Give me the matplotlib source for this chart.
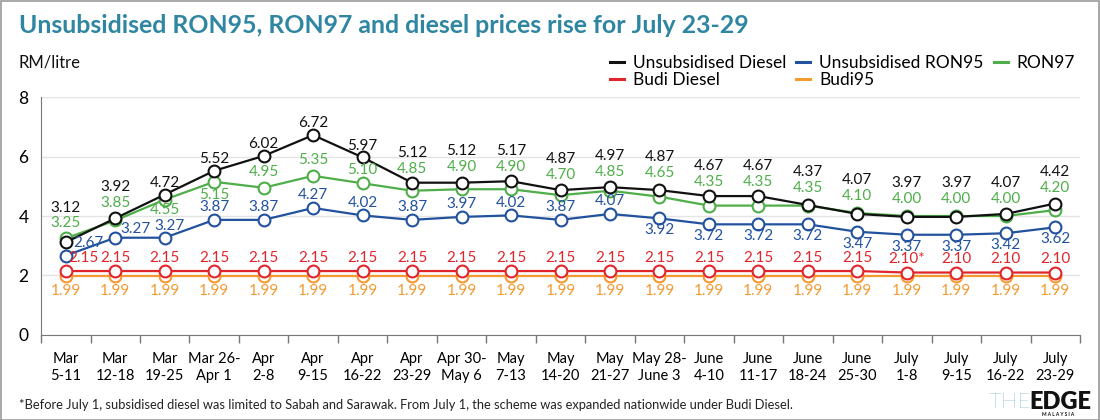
import numpy as np
import matplotlib
matplotlib.use("Agg")
import matplotlib.pyplot as plt
from matplotlib.patches import Rectangle
from matplotlib.lines import Line2D

plt.rcParams['font.family'] = ['Lato', 'DejaVu Sans']

# ---- data ----
weeks = ["Mar\n5-11", "Mar\n12-18", "Mar\n19-25", "Mar 26-\nApr 1", "Apr\n2-8",
         "Apr\n9-15", "Apr\n16-22", "Apr\n23-29", "Apr 30-\nMay 6", "May\n7-13",
         "May\n14-20", "May\n21-27", "May 28-\nJune 3", "June\n4-10", "June\n11-17",
         "June\n18-24", "June\n25-30", "July\n1-8", "July\n9-15", "July\n16-22",
         "July\n23-29"]
diesel = [3.12, 3.92, 4.72, 5.52, 6.02, 6.72, 5.97, 5.12, 5.12, 5.17, 4.87,
          4.97, 4.87, 4.67, 4.67, 4.37, 4.07, 3.97, 3.97, 4.07, 4.42]
ron95 = [2.67, 3.27, 3.27, 3.87, 3.87, 4.27, 4.02, 3.87, 3.97, 4.02, 3.87,
         4.07, 3.92, 3.72, 3.72, 3.72, 3.47, 3.37, 3.37, 3.42, 3.62]
ron97 = [3.25, 3.85, 4.55, 5.15, 4.95, 5.35, 5.10, 4.85, 4.90, 4.90, 4.70,
         4.85, 4.65, 4.35, 4.35, 4.35, 4.10, 4.00, 4.00, 4.00, 4.20]
budi_diesel = [2.15] * 17 + [2.10] * 4
budi95 = [1.99] * 21
budi_diesel_labels = ["2.15"] * 17 + ["2.10*", "2.10", "2.10", "2.10"]

# label nudges (data units) for the RON97 values, as laid out in the original
green_offsets = [0.5, 0.59, -0.35, -0.45, 0.53, 0.53, 0.45, 0.73, 0.75, 0.75, 0.68,
                 0.63, 0.79, 0.79, 0.79, 0.59, 0.57, 0.57, 0.57, 0.57, 0.74]

C_BLACK = "#111111"
C_BLUE = "#22529e"
C_GREEN = "#4fae4a"
C_RED = "#e0262b"
C_ORANGE = "#f39a31"
C_TITLE = "#2f86a2"

fig = plt.figure(figsize=(11, 4.2), dpi=100)
ax = fig.add_axes([0.0373, 0.2024, 0.9445, 0.5666])

x = np.arange(len(weeks))


def draw(vals, color, label, z):
    ax.plot(x, vals, color=color, lw=1.6, marker='o', ms=8.5, mfc='white',
            mec=color, mew=1.5, label=label, zorder=z)


draw(budi95, C_ORANGE, "Budi95", 3)
draw(budi_diesel, C_RED, "Budi Diesel", 4)
draw(ron95, C_BLUE, "Unsubsidised RON95", 5)
draw(ron97, C_GREEN, "RON97", 6)
draw(diesel, C_BLACK, "Unsubsidised Diesel", 7)

# ---- value labels ----
fs = 11
green_y = []
for i, v in enumerate(ron97):
    gy = v + green_offsets[i]
    green_y.append(gy)
    ax.text(i, gy, f"{v:.2f}", color=C_GREEN, fontsize=fs, ha='center',
            va='center', zorder=10)

for i, v in enumerate(diesel):
    if i in (2, 3):
        dy = v + 0.4
    else:
        dy = max(v + 0.4, green_y[i] + 0.53)
    ax.text(i, dy, f"{v:.2f}", color=C_BLACK, fontsize=fs, ha='center',
            va='center', zorder=10)

for i, v in enumerate(ron95):
    dx = 0
    if i == 0:
        dx, dy = 0.45, v + 0.42
    elif i == 1:
        dx, dy = 0.4, v + 0.3
    elif i == 2:
        dx, dy = 0.1, v + 0.38
    elif i <= 11:
        dy = v + 0.42
    else:
        dy = v - 0.4
    ax.text(i + dx, dy, f"{v:.2f}", color=C_BLUE, fontsize=fs, ha='center',
            va='center', zorder=10)

for i, v in enumerate(budi_diesel):
    dx = 0.36 if i == 0 else 0
    ax.text(i + dx, v + 0.44, budi_diesel_labels[i], color=C_RED, fontsize=fs,
            ha='center', va='center', zorder=10)

for i, v in enumerate(budi95):
    ax.text(i, v - 0.5, f"{v:.2f}", color=C_ORANGE, fontsize=fs,
            ha='center', va='center', zorder=10)

# ---- axes styling ----
ax.set_xlim(-0.5, len(weeks) - 0.5)
ax.set_ylim(0, 8)
ax.set_yticks([0, 2, 4, 6, 8])
ax.set_yticklabels(["0", "2", "4", "6", "8"], fontsize=12.5)
ax.tick_params(axis='y', length=0, pad=9)
ax.set_xticks(x)
ax.set_xticklabels(weeks, fontsize=10.5, linespacing=1.3)
ax.tick_params(axis='x', which='major', length=0, pad=12)
ax.set_xticks(np.arange(-0.5, len(weeks)), minor=True)
ax.tick_params(axis='x', which='minor', length=6, width=1, color="#777777")
ax.grid(axis='y', color="#e4e4e4", lw=1)
ax.set_axisbelow(True)
for s in ("top", "right"):
    ax.spines[s].set_visible(False)
ax.spines["left"].set_color("#777777")
ax.spines["bottom"].set_color("#777777")

order = ["Unsubsidised Diesel", "Budi Diesel", "Unsubsidised RON95", "Budi95", "RON97"]
order_colors = [C_BLACK, C_RED, C_BLUE, C_ORANGE, C_GREEN]
leg_handles = [Line2D([], [], color=c, lw=2.2) for c in order_colors]
fig.legend(leg_handles, order, ncol=3, loc='upper right',
           bbox_to_anchor=(0.985, 0.89), frameon=False, fontsize=12.5,
           handlelength=0.8, handletextpad=0.5, columnspacing=0.6,
           labelspacing=0.05, borderpad=0)

# ---- text ----
fig.text(0.017, 0.94, "Unsubsidised RON95, RON97 and diesel prices rise for July 23-29",
         fontsize=17.9, fontweight='bold', color=C_TITLE, va='center')
fig.text(0.017, 0.85, "RM/litre", fontsize=12, color="#111111", va='center')
fig.text(0.017, 0.035,
         "*Before July 1, subsidised diesel was limited to Sabah and Sarawak. "
         "From July 1, the scheme was expanded nationwide under Budi Diesel.",
         fontsize=9.3, color="#222222", va='center')
fig.text(0.937, 0.043, "THE", fontsize=16, color="#3a8fa8", fontweight='light',
         ha='right', va='center')
fig.text(0.936, 0.043, "EDGE", fontsize=17, color="#111111", fontweight='heavy',
         ha='left', va='center')
fig.text(0.962, 0.012, "M A L A Y S I A", fontsize=3.5, color="#111111",
         ha='center', va='center', fontweight='bold')

fig.patches.append(Rectangle((0.0005, 0.001), 0.999, 0.997, transform=fig.transFigure,
                             fill=False, edgecolor="#9a9a9a", lw=1.2))

fig.savefig("out.png", dpi=100)
